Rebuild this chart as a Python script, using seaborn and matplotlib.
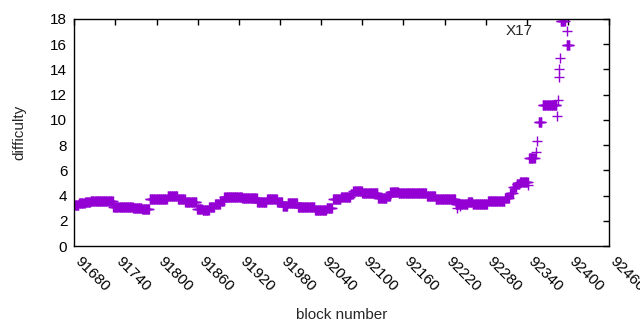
import numpy as np
import pandas as pd
import matplotlib
matplotlib.use("Agg")
import matplotlib.pyplot as plt
import matplotlib.transforms as mtransforms
import seaborn as sns

seg_start = [91680, 91687, 91696, 91704, 91713, 91737, 91766, 91779, 91790, 91807,
             91816, 91831, 91842, 91859, 91867, 91877, 91885, 91893, 91899, 91925,
             91947, 91961, 91976, 91984, 91991, 92006, 92031, 92048, 92057, 92069,
             92083, 92087, 92100, 92123, 92136, 92141, 92153, 92194, 92207, 92236,
             92245, 92254, 92261, 92283, 92308, 92315, 92320, 92325, 92330, 92343,
             92357, 92363, 92389, 92398]
seg_end = [91686, 91695, 91703, 91712, 91736, 91765, 91778, 91789, 91806, 91815,
           91830, 91841, 91858, 91866, 91876, 91884, 91892, 91898, 91924, 91946,
           91960, 91975, 91983, 91990, 92005, 92030, 92047, 92056, 92068, 92082,
           92086, 92099, 92122, 92135, 92140, 92152, 92193, 92206, 92235, 92244,
           92253, 92260, 92282, 92307, 92314, 92319, 92324, 92329, 92341, 92351,
           92361, 92383, 92395, 92402]
seg_diff = [3.25, 3.4, 3.5, 3.6, 3.55, 3.1, 3.05, 2.95, 3.7, 3.75,
            3.95, 3.75, 3.45, 2.95, 2.85, 3.1, 3.35, 3.6, 3.85, 3.8,
            3.5, 3.7, 3.45, 3.15, 3.4, 3.1, 2.85, 3.05, 3.75, 3.9,
            4.1, 4.4, 4.2, 3.8, 4.0, 4.3, 4.2, 3.95, 3.75, 3.3,
            3.35, 3.5, 3.35, 3.6, 3.8, 4.2, 4.65, 4.9, 5.1, 7.0,
            9.8, 11.2, 17.8, 15.9]

# single blocks during the spike
single_block = [92238, 92242, 92342, 92353, 92355, 92384, 92385, 92386, 92387, 92388]
single_diff = [3.05, 3.15, 4.85, 7.45, 8.3, 10.3, 11.6, 13.4, 14.0, 14.9]

x_ticks = list(range(91680, 92461, 60))
y_ticks = list(range(0, 19, 2))

blocks, diffs = [], []
for s, e, d in zip(seg_start, seg_end, seg_diff):
    for b in range(s, e + 1):
        blocks.append(b)
        diffs.append(d)
blocks += single_block
diffs += single_diff
df = pd.DataFrame({"block": blocks, "difficulty": diffs})

sns.set_style("white")
plt.rcParams['font.family'] = ['Liberation Sans', 'DejaVu Sans']
plt.rcParams['font.size'] = 11

fig = plt.figure(figsize=(6.4, 3.3), dpi=100)
ax = fig.add_axes([0.116, 0.2545, 0.836, 0.688])

sns.scatterplot(data=df, x="block", y="difficulty", marker="+", s=52,
                color="#9400D3", linewidth=1, label="X17", ax=ax)

ax.set_xlim(91680, 92460)
ax.set_ylim(0, 18)
ax.set_xticks(x_ticks)
ax.set_yticks(y_ticks)
ax.tick_params(direction="in", length=4, width=1, top=True, right=True,
               colors="black", labelsize=11, pad=5)
shift = mtransforms.ScaledTranslation(8 / 100, -1 / 100, fig.dpi_scale_trans)
for lab in ax.get_xticklabels():
    lab.set_rotation(-45)
    lab.set_ha("left")
    lab.set_va("top")
    lab.set_rotation_mode("anchor")
    lab.set_transform(lab.get_transform() + shift)
for sp in ax.spines.values():
    sp.set_visible(True)
    sp.set_color("black")
    sp.set_linewidth(1)

ax.set_xlabel("block number", fontsize=11, labelpad=10)
ax.set_ylabel("difficulty", fontsize=11, labelpad=17)

ax.legend(markerfirst=False, frameon=False, loc="center right",
          bbox_to_anchor=(0.959, 0.947), handlelength=2.6, handletextpad=1.0,
          borderpad=0, borderaxespad=0, scatterpoints=1, fontsize=11)

fig.savefig("out.png", dpi=100)
